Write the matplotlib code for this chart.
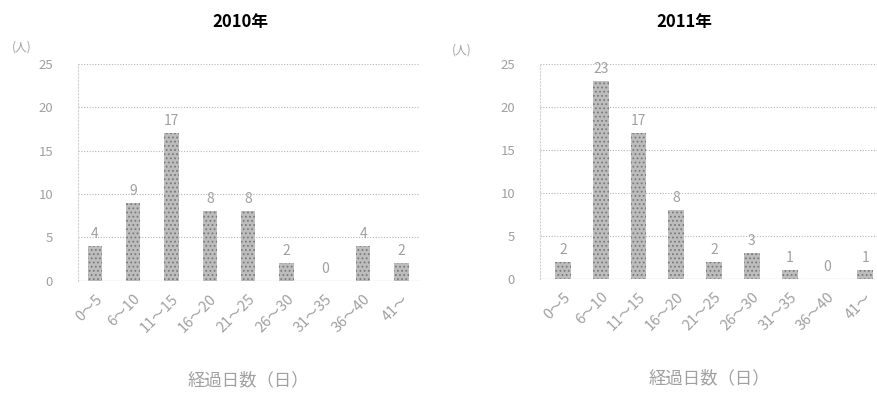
import matplotlib
matplotlib.use("Agg")
import matplotlib.pyplot as plt

plt.rcParams['font.family'] = ['Noto Sans CJK JP', 'DejaVu Sans']
plt.rcParams['hatch.linewidth'] = 0.8

categories = ["0～5", "6～10", "11～15", "16～20", "21～25", "26～30", "31～35", "36～40", "41～"]
counts_2010 = [4, 9, 17, 8, 8, 2, 0, 4, 2]
counts_2011 = [2, 23, 17, 8, 2, 3, 1, 0, 1]
yticks = [0, 5, 10, 15, 20, 25]
titles = ["2010年", "2011年"]
xlabel = "経過日数（日）"
ylabel = "(人)"

GREY_TXT = '#a0a0a0'
BAR = '#bdbdbd'

fig = plt.figure(figsize=(8.78, 3.95), dpi=100)
ax1 = fig.add_axes([0.0888, 0.289, 0.389, 0.549])
ax2 = fig.add_axes([0.615, 0.294, 0.385, 0.544])


def draw(ax, values, width, xlim):
    x = range(len(categories))
    ax.bar(x, values, width=width, color=BAR, edgecolor='#7a7a7a', linewidth=0,
           hatch='....', zorder=2)
    for xi, v in zip(x, values):
        ax.text(xi, v + 0.6, str(v), ha='center', va='bottom', fontsize=10, color=GREY_TXT)
    ax.set_ylim(0, 25)
    ax.set_xlim(*xlim)
    ax.set_yticks(yticks)
    ax.yaxis.grid(True, linestyle=(0, (1, 1.5)), color='#b5b5b5', linewidth=0.8, zorder=0)
    for s in ['top', 'right', 'bottom']:
        ax.spines[s].set_visible(False)
    ax.spines['left'].set_color('#d0d0d0')
    ax.spines['left'].set_linestyle((0, (1, 2)))
    ax.axhline(0, color='#b0b0b0', linewidth=0.9, linestyle=(0, (1, 1)), zorder=3)
    ax.set_xticks(list(x))
    ax.set_xticklabels(categories, rotation=45, ha='right', rotation_mode='anchor',
                       fontsize=10.5, color=GREY_TXT)
    ax.tick_params(axis='x', length=0, pad=8)
    ax.tick_params(axis='y', length=0, pad=18, labelsize=9.5, labelcolor=GREY_TXT)
    ax.set_xlabel(xlabel, fontsize=12.5, color=GREY_TXT, labelpad=26)
    ax.set_facecolor('white')


draw(ax1, counts_2010, 0.38, (-0.44, 8.47))
draw(ax2, counts_2011, 0.42, (-0.61, 8.34))

fig.text(240 / 878, 1 - 22 / 395, titles[0], ha='center', va='center', fontsize=12, fontweight='bold')
fig.text(684 / 878, 1 - 22 / 395, titles[1], ha='center', va='center', fontsize=12, fontweight='bold')
fig.text(22 / 878, 1 - 47 / 395, ylabel, ha='center', va='center', fontsize=8.5, color=GREY_TXT)
fig.text(462 / 878, 1 - 50 / 395, ylabel, ha='center', va='center', fontsize=8.5, color=GREY_TXT)

fig.savefig("out.png", dpi=100, facecolor='white')
